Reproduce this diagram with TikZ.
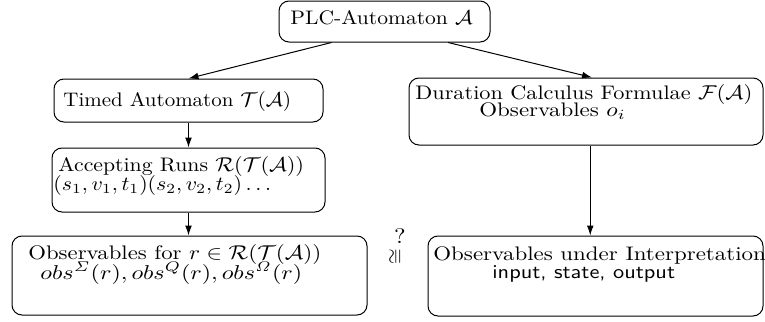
\documentclass[tikz,border=0pt]{standalone}
\usetikzlibrary{arrows.meta,calc}
\newcommand{\widetxt}[2][1.17]{\scalebox{#1}[1]{#2}}
\begin{document}
\begin{tikzpicture}[x=0.5pt,y=-0.5pt,
  box/.style={draw, rounded corners=5pt, line width=0.5pt, inner sep=0pt},
  txt/.style={anchor=base west, inner sep=0pt, font=\fontsize{9.8}{12}\selectfont},
  arr/.style={-{Latex[length=5pt,width=3.4pt]}, line width=0.5pt}]
\useasboundingbox (0,0) rectangle (765,321);
% boxes
\node[box, minimum width=105.5pt, minimum height=20.5pt] (plc) at (384.5,21.5) {};
\node[box, minimum width=134.5pt, minimum height=21.5pt] (timed) at (188.5,100.5) {};
\node[box, minimum width=136.5pt, minimum height=32pt] (acc) at (188.5,180) {};
\node[box, minimum width=177.5pt, minimum height=39.5pt] (obsr) at (189.5,275.5) {};
\node[box, minimum width=177pt, minimum height=33.5pt] (dur) at (586,111.5) {};
\node[box, minimum width=167.5pt, minimum height=40pt] (interp) at (595.5,276) {};
% texts
\node[txt] (tplc) at (290,25) {\widetxt[1.10]{PLC-Automaton $\mathcal{A}$}};
\node[txt] (ttimed) at (63,106) {\widetxt[1.07]{Timed Automaton $\mathcal{T}(\mathcal{A})$}};
\node[txt] (tacca) at (58,171) {\widetxt[1.11]{Accepting Runs $\mathcal{R}(\mathcal{T}(\mathcal{A}))$}};
\node[txt] (taccb) at (53,190) {\widetxt[1.09]{$(s_1,v_1,t_1)(s_2,v_2,t_2)\ldots$}};
\node[txt] (tobsa) at (28,259) {\widetxt[1.16]{Observables for $r\in\mathcal{R}(\mathcal{T}(\mathcal{A}))$}};
\node[txt] (tobsb) at (40,279) {\widetxt[1.2]{$obs^{\mathit{\Sigma}}(r), obs^{Q}(r), obs^{\mathit{\Omega}}(r)$}};
\node[txt] (tdura) at (415,99) {\widetxt[1.135]{Duration Calculus Formulae $\mathcal{F}(\mathcal{A})$}};
\node[txt] (tdurb) at (479,116) {\widetxt{Observables $o_i$}};
\node[txt] (tinta) at (433,260) {\widetxt[1.17]{Observables under Interpretation}};
\node[txt] (tintb) at (492,278) {\widetxt[1.14]{\textsf{input, state, output}}};
\node[inner sep=0pt, font=\fontsize{10.5}{12}\selectfont] (q) at (400,236) {\widetxt{?}};
\node[inner sep=0pt, rotate=90, font=\fontsize{9.8}{12}\selectfont] (cong) at (396,257) {$\cong$};
% connectors
\coordinate (p1) at ($(plc.south west)!0.25!(plc.south east)$);
\coordinate (p2) at ($(plc.south west)!0.8!(plc.south east)$);
\coordinate (d1) at ($(dur.north west)!0.517!(dur.north east)$);
\coordinate (d2) at ($(dur.south west)!0.512!(dur.south east)$);
\draw[arr] (p1) -- (timed.north);
\draw[arr] (p2) -- (d1);
\draw[arr] (timed.south) -- (acc.north);
\draw[arr] (acc.south) -- (acc.south |- obsr.north);
\draw[arr] (d2) -- (d2 |- interp.north);
\end{tikzpicture}
\end{document}
